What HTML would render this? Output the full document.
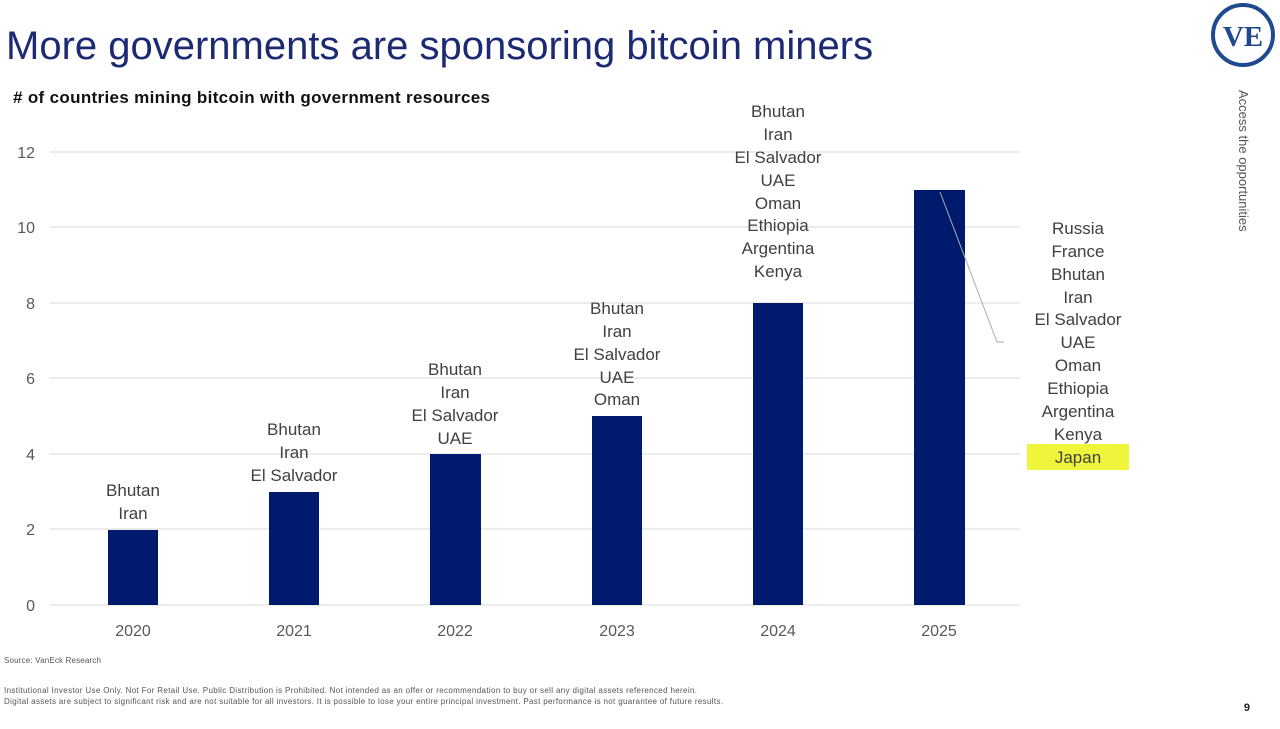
<!DOCTYPE html><html><head><meta charset="utf-8"><style>body{margin:0;background:#fff}svg{display:block}</style></head><body>
<svg width="1280" height="729" xmlns="http://www.w3.org/2000/svg" font-family="Liberation Sans, DejaVu Sans, sans-serif">
<rect width="1280" height="729" fill="#fff"/>
<text x="6" y="59" font-size="40" fill="#1c2a74">More governments are sponsoring bitcoin miners</text>
<text x="13" y="103" font-size="17" font-weight="bold" fill="#111" textLength="477">#  of countries mining bitcoin with government resources</text>
<g stroke="#d9d9d9" stroke-width="1">
<line x1="50" x2="1020" y1="152" y2="152"/><line x1="50" x2="1020" y1="227" y2="227"/><line x1="50" x2="1020" y1="303" y2="303"/><line x1="50" x2="1020" y1="378" y2="378"/><line x1="50" x2="1020" y1="454" y2="454"/><line x1="50" x2="1020" y1="529" y2="529"/><line x1="50" x2="1020" y1="605" y2="605"/>
</g>
<g font-size="16" fill="#595959" text-anchor="end">
<text x="35" y="158">12</text><text x="35" y="233">10</text><text x="35" y="309">8</text><text x="35" y="384">6</text><text x="35" y="460">4</text><text x="35" y="535">2</text><text x="35" y="611">0</text>
</g>
<g fill="#001a6e">
<rect x="108" y="530" width="50" height="75"/><rect x="269" y="492" width="50" height="113"/><rect x="430" y="454" width="51" height="151"/><rect x="592" y="416" width="50" height="189"/><rect x="753" y="303" width="50" height="302"/><rect x="914" y="190" width="51" height="415"/>
</g>
<g font-size="16" fill="#595959" text-anchor="middle">
<text x="133" y="636">2020</text><text x="294" y="636">2021</text><text x="455" y="636">2022</text><text x="617" y="636">2023</text><text x="778" y="636">2024</text><text x="939" y="636">2025</text>
</g>
<line x1="940" y1="192" x2="997" y2="342" stroke="#aaa"/><line x1="997" y1="342" x2="1004" y2="342" stroke="#aaa"/>
<rect x="1027" y="444" width="102" height="26" fill="#eef53a"/>
<g font-size="17" fill="#404040" text-anchor="middle">
<text x="133" y="496">Bhutan</text><text x="133" y="519">Iran</text>
<text x="294" y="435">Bhutan</text><text x="294" y="458">Iran</text><text x="294" y="481">El Salvador</text>
<text x="455" y="375">Bhutan</text><text x="455" y="398">Iran</text><text x="455" y="421">El Salvador</text><text x="455" y="444">UAE</text>
<text x="617" y="314">Bhutan</text><text x="617" y="337">Iran</text><text x="617" y="360">El Salvador</text><text x="617" y="383">UAE</text><text x="617" y="405">Oman</text>
<text x="778" y="117">Bhutan</text><text x="778" y="140">Iran</text><text x="778" y="163">El Salvador</text><text x="778" y="186">UAE</text><text x="778" y="209">Oman</text><text x="778" y="231">Ethiopia</text><text x="778" y="254">Argentina</text><text x="778" y="277">Kenya</text>
<text x="1078" y="234">Russia</text><text x="1078" y="257">France</text><text x="1078" y="280">Bhutan</text><text x="1078" y="303">Iran</text><text x="1078" y="325">El Salvador</text><text x="1078" y="348">UAE</text><text x="1078" y="371">Oman</text><text x="1078" y="394">Ethiopia</text><text x="1078" y="417">Argentina</text><text x="1078" y="440">Kenya</text><text x="1078" y="463">Japan</text>
</g>
<circle cx="1243" cy="35" r="30" fill="none" stroke="#1f4a8f" stroke-width="4"/>
<text x="1243" y="46" font-family="Liberation Serif, serif" font-weight="bold" font-size="29" fill="#1f4a8f" text-anchor="middle">VE</text>
<text transform="translate(1239,90) rotate(90)" font-size="13" fill="#555">Access the opportunities</text>
<text x="4" y="663" font-size="8" fill="#555" textLength="97">Source: VanEck Research</text>
<text x="4" y="693" font-size="8" fill="#555" textLength="693">Institutional Investor Use Only. Not For Retail Use. Public Distribution is Prohibited. Not intended as an offer or recommendation to buy or sell any digital assets referenced herein.</text>
<text x="4" y="704" font-size="8" fill="#555" textLength="719">Digital assets are subject to significant risk and are not suitable for all investors. It is possible to lose your entire principal investment. Past performance is not guarantee of future results.</text>
<text x="1250" y="711" font-size="11" font-weight="bold" fill="#222" text-anchor="end">9</text>
</svg></body></html>
